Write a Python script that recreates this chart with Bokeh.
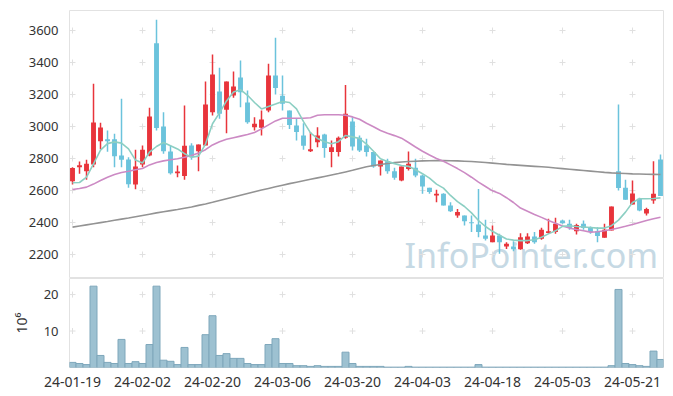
from bokeh.plotting import figure
from bokeh.models import ColumnDataSource, FixedTicker, Label, Range1d
from bokeh.layouts import column
from bokeh.embed import file_html
from bokeh.resources import INLINE

# ---------------- data ----------------
dates = [
    "24-01-19", "24-01-22", "24-01-23", "24-01-24", "24-01-25", "24-01-26", "24-01-29", "24-01-30", "24-01-31",
    "24-02-01", "24-02-02", "24-02-05", "24-02-06", "24-02-07", "24-02-08", "24-02-13", "24-02-14", "24-02-15",
    "24-02-16", "24-02-19", "24-02-20", "24-02-21", "24-02-22", "24-02-23", "24-02-26", "24-02-27", "24-02-28",
    "24-02-29", "24-03-04", "24-03-05", "24-03-06", "24-03-07", "24-03-08", "24-03-11", "24-03-12", "24-03-13",
    "24-03-14", "24-03-15", "24-03-18", "24-03-19", "24-03-20", "24-03-21", "24-03-22", "24-03-25", "24-03-26",
    "24-03-27", "24-03-28", "24-03-29", "24-04-01", "24-04-02", "24-04-03", "24-04-04", "24-04-05", "24-04-08",
    "24-04-09", "24-04-11", "24-04-12", "24-04-15", "24-04-16", "24-04-17", "24-04-18", "24-04-19", "24-04-22",
    "24-04-23", "24-04-24", "24-04-25", "24-04-26", "24-04-29", "24-04-30", "24-05-02", "24-05-03", "24-05-07",
    "24-05-08", "24-05-09", "24-05-10", "24-05-13", "24-05-14", "24-05-16", "24-05-17", "24-05-20", "24-05-21",
    "24-05-22", "24-05-23", "24-05-24", "24-05-27",
]
opens = [2658, 2746, 2721, 2762, 2908, 2921, 2921, 2819, 2794, 2638, 2762, 2819, 3521, 3000, 2844, 2708, 2690,
         2881, 2846, 2881, 3089, 3219, 3104, 3194, 3306, 3150, 2996, 2992, 3100, 3319, 3192, 3100, 3006, 2944,
         2846, 2902, 2950, 2840, 2840, 2929, 3031, 2929, 2881, 2840, 2750, 2783, 2721, 2662, 2735, 2742, 2694,
         2617, 2569, 2579, 2506, 2444, 2444, 2402, 2388, 2319, 2277, 2319, 2250, 2250, 2233, 2271, 2312, 2298,
         2335, 2340, 2412, 2392, 2346, 2392, 2367, 2346, 2304, 2350, 2721, 2617, 2512, 2548, 2456, 2537, 2794]
highs = [2745, 2781, 2792, 3267, 3023, 2975, 2954, 3173, 2808, 2854, 2881, 3117, 3667, 3089, 2879, 2756, 3131,
         2896, 2887, 3281, 3450, 3367, 3281, 3344, 3412, 3225, 3058, 3100, 3392, 3554, 3319, 3100, 3048, 3021,
         2965, 2996, 2954, 2912, 2937, 3260, 3058, 2944, 2923, 2840, 2787, 2798, 2742, 2750, 2844, 2798, 2700,
         2617, 2604, 2583, 2527, 2485, 2444, 2444, 2610, 2417, 2381, 2329, 2277, 2283, 2333, 2333, 2340, 2367,
         2423, 2429, 2417, 2417, 2392, 2412, 2375, 2371, 2392, 2500, 3137, 2667, 2662, 2554, 2492, 2783, 2825]
lows = [2638, 2704, 2667, 2746, 2858, 2842, 2746, 2746, 2617, 2608, 2746, 2814, 2975, 2829, 2700, 2683, 2667,
        2792, 2721, 2881, 3069, 3048, 2958, 3179, 3121, 3017, 2975, 2944, 3089, 3200, 3100, 2985, 2912, 2854,
        2840, 2871, 2804, 2746, 2812, 2923, 2850, 2840, 2812, 2742, 2694, 2704, 2667, 2658, 2725, 2683, 2579,
        2579, 2527, 2506, 2465, 2429, 2381, 2340, 2308, 2288, 2277, 2204, 2235, 2221, 2229, 2265, 2267, 2292,
        2329, 2329, 2392, 2354, 2325, 2354, 2329, 2277, 2304, 2350, 2600, 2542, 2512, 2471, 2444, 2517, 2565]
closes = [2740, 2758, 2767, 3025, 2994, 2908, 2814, 2792, 2639, 2750, 2854, 3062, 2990, 2846, 2708, 2719, 2879,
          2808, 2887, 3137, 3325, 3079, 3281, 3250, 3214, 3027, 3017, 3044, 3319, 3240, 3142, 3010, 2965, 2879,
          2858, 2944, 2865, 2871, 2929, 3079, 2875, 2850, 2840, 2750, 2787, 2721, 2679, 2750, 2767, 2694, 2625,
          2590, 2579, 2506, 2471, 2465, 2408, 2396, 2340, 2298, 2319, 2277, 2267, 2233, 2308, 2312, 2277, 2354,
          2346, 2392, 2396, 2365, 2385, 2365, 2340, 2315, 2354, 2500, 2615, 2542, 2581, 2475, 2485, 2579, 2565]
volumes = [1.4, 1.1, 0.8, 22.3, 3.3, 1.4, 1.1, 7.7, 1.1, 1.6, 1.1, 6.3, 22.3, 2.0, 1.7, 0.8, 5.5, 0.8, 0.8,
           9.0, 14.2, 3.3, 3.8, 2.5, 2.5, 1.1, 0.8, 0.8, 6.3, 7.9, 1.1, 1.1, 0.5, 0.5, 0.3, 0.5, 0.3, 0.3,
           0.3, 4.2, 1.1, 0.3, 0.3, 0.3, 0.3, 0.1, 0.1, 0.1, 0.3, 0.1, 0.1, 0.1, 0.1, 0.1, 0.1, 0.1, 0.1,
           0.1, 0.8, 0.1, 0.1, 0.1, 0.1, 0.1, 0.1, 0.1, 0.1, 0.1, 0.1, 0.1, 0.1, 0.1, 0.1, 0.1, 0.1, 0.1,
           0.1, 0.5, 21.4, 1.1, 0.8, 0.5, 0.3, 4.5, 2.2]
ma5 = [2648, 2650, 2683, 2767, 2852, 2893, 2904, 2896, 2860, 2790, 2772, 2840, 2875, 2900, 2880, 2860, 2830,
       2808, 2815, 2890, 3017, 3085, 3160, 3215, 3230, 3195, 3150, 3110, 3125, 3140, 3156, 3150, 3110, 3030,
       2960, 2925, 2905, 2892, 2905, 2944, 2935, 2925, 2890, 2845, 2798, 2782, 2768, 2756, 2751, 2730, 2705,
       2677, 2640, 2615, 2569, 2530, 2500, 2460, 2412, 2375, 2345, 2320, 2297, 2290, 2287, 2287, 2292, 2308,
       2329, 2348, 2376, 2380, 2375, 2372, 2369, 2365, 2365, 2380, 2415, 2465, 2525, 2548, 2548, 2550, 2554]
ma20 = [2606, 2612, 2621, 2640, 2662, 2683, 2700, 2712, 2720, 2730, 2738, 2760, 2775, 2785, 2792, 2798, 2808,
        2819, 2835, 2855, 2885, 2905, 2920, 2930, 2940, 2950, 2962, 2985, 3010, 3035, 3052, 3052, 3052, 3052,
        3055, 3070, 3073, 3073, 3073, 3070, 3060, 3045, 3020, 2998, 2975, 2958, 2943, 2927, 2900, 2872, 2845,
        2822, 2800, 2783, 2760, 2737, 2712, 2683, 2652, 2625, 2598, 2582, 2555, 2525, 2490, 2470, 2450, 2432,
        2412, 2395, 2378, 2365, 2356, 2348, 2340, 2342, 2348, 2356, 2366, 2376, 2388, 2400, 2412, 2423, 2433]
ma60 = [2371, 2378, 2385, 2392, 2399, 2406, 2414, 2421, 2428, 2436, 2444, 2452, 2460, 2467, 2474, 2481, 2489,
        2497, 2507, 2516, 2526, 2537, 2548, 2559, 2570, 2581, 2592, 2603, 2613, 2623, 2633, 2643, 2652, 2661,
        2670, 2679, 2688, 2697, 2706, 2716, 2726, 2738, 2748, 2756, 2763, 2769, 2774, 2778, 2781, 2783, 2785,
        2786, 2787, 2787, 2786, 2785, 2783, 2781, 2778, 2775, 2771, 2767, 2763, 2760, 2757, 2754, 2751, 2748,
        2745, 2741, 2737, 2733, 2729, 2725, 2721, 2717, 2713, 2710, 2708, 2706, 2704, 2703, 2702, 2701, 2700]
price_ticks = [2200, 2400, 2600, 2800, 3000, 3200, 3400, 3600]
vol_ticks = [10, 20]
date_tick_idx = [0, 10, 20, 30, 40, 50, 60, 70, 80]

# ---------------- styling ----------------
UP = "#e8343b"
DOWN = "#6bc3dc"
FONT = "Noto Sans"
LABEL_COLOR = "#333333"
FRAME = "#e2e2e2"
CROSS = "#e0e0e0"

idx = list(range(len(dates)))
colors = [UP if c >= o else DOWN for o, c in zip(opens, closes)]
src = ColumnDataSource(dict(
    x=idx, open=opens, high=highs, low=lows, close=closes,
    top=[max(o, c) for o, c in zip(opens, closes)],
    bottom=[min(o, c) for o, c in zip(opens, closes)],
    color=colors, ma5=ma5, ma20=ma20, ma60=ma60, vol=volumes,
))

x_range = Range1d(-0.43, len(dates) - 1 + 0.43)

# ---------------- price chart ----------------
p = figure(width=665, height=278, x_range=x_range, y_range=Range1d(2050, 3725),
           output_backend="svg", toolbar_location=None, x_axis_location=None,
           min_border_left=69, min_border_right=2, min_border_top=10, min_border_bottom=0)
p.grid.visible = False
p.outline_line_color = FRAME
p.background_fill_color = "white"
p.border_fill_color = "white"

p.yaxis.ticker = FixedTicker(ticks=price_ticks)
p.yaxis.axis_line_color = None
p.yaxis.major_tick_line_color = None
p.yaxis.minor_tick_line_color = None
p.yaxis.major_label_standoff = 5
p.yaxis.major_label_text_font = FONT
p.yaxis.major_label_text_font_size = "13px"
p.yaxis.major_label_text_color = LABEL_COLOR

cx = [t for t in date_tick_idx for _ in price_ticks]
cy = [v for _ in date_tick_idx for v in price_ticks]
p.scatter(cx, cy, marker="cross", size=6, line_color=CROSS, line_width=1)

wm = Label(x=len(dates) - 1 - 0.35, y=2197, text="InfoPointer.com", text_font=FONT,
           text_font_size="34px", text_color="#c6d9e4", text_align="right",
           text_baseline="middle", level="underlay")
p.add_layout(wm)

p.segment(x0="x", y0="high", x1="x", y1="low", source=src, line_color="color", line_width=1.5)
p.vbar(x="x", width=0.7, top="top", bottom="bottom", source=src,
       fill_color="color", line_color=None)

p.line("x", "ma60", source=src, line_color="#939393", line_width=1.6)
p.line("x", "ma20", source=src, line_color="#cc8ac4", line_width=1.6)
p.line("x", "ma5", source=src, line_color="#8ccfc3", line_width=1.6)

# ---------------- volume chart ----------------
v = figure(width=665, height=117, x_range=x_range, y_range=Range1d(0, 24.4),
           output_backend="svg", toolbar_location=None,
           min_border_left=69, min_border_right=2, min_border_top=0, min_border_bottom=28)
v.grid.visible = False
v.outline_line_color = FRAME

vx = [t for t in date_tick_idx for _ in vol_ticks]
vy = [y for _ in date_tick_idx for y in vol_ticks]
v.scatter(vx, vy, marker="cross", size=6, line_color=CROSS, line_width=1)

v.vbar(x="x", top="vol", width=1.0, source=src, fill_color="#9dc1d1",
       line_color="#7ea7bb", line_width=1)

v.xaxis.ticker = FixedTicker(ticks=date_tick_idx)
v.xaxis.major_label_overrides = {i: dates[i] for i in date_tick_idx}
v.xaxis.axis_line_color = None
v.xaxis.major_tick_line_color = None
v.xaxis.minor_tick_line_color = None
v.xaxis.major_label_standoff = 3
v.xaxis.major_label_text_font = FONT
v.xaxis.major_label_text_font_size = "14px"
v.xaxis.major_label_text_color = LABEL_COLOR

v.yaxis.ticker = FixedTicker(ticks=vol_ticks)
v.yaxis.axis_line_color = None
v.yaxis.major_tick_line_color = None
v.yaxis.minor_tick_line_color = None
v.yaxis.major_label_standoff = 5
v.yaxis.major_label_text_font = FONT
v.yaxis.major_label_text_font_size = "13px"
v.yaxis.major_label_text_color = LABEL_COLOR
v.yaxis.axis_label = "10\u2076"
v.yaxis.axis_label_text_font = FONT
v.yaxis.axis_label_text_font_size = "14px"
v.yaxis.axis_label_text_font_style = "normal"
v.yaxis.axis_label_text_color = LABEL_COLOR
v.yaxis.axis_label_standoff = 10

layout = column(p, v, spacing=0)
open("out.html", "w").write(file_html(layout, INLINE))
